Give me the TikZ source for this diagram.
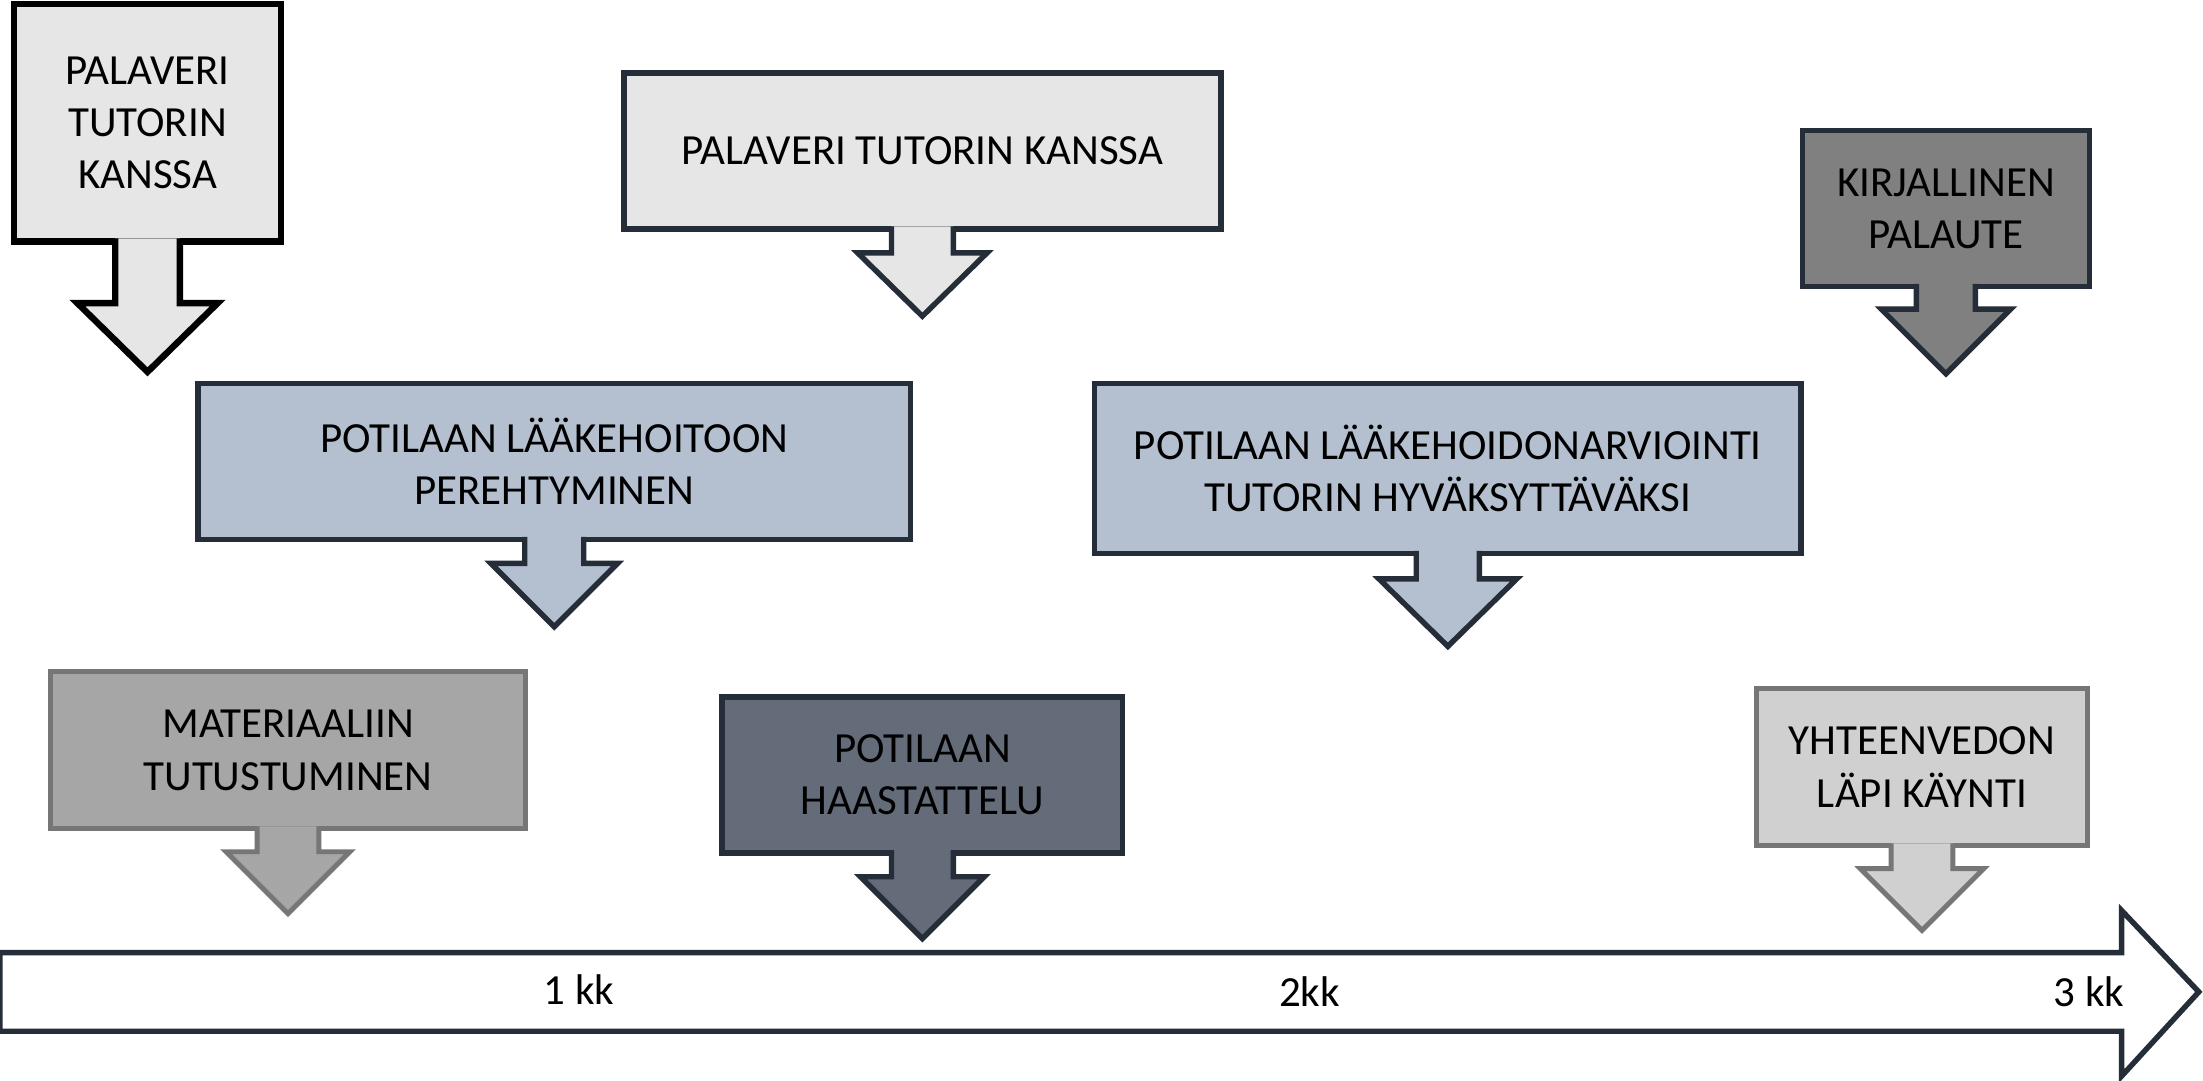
\documentclass[tikz,border=0pt]{standalone}
\usepackage{fontspec}
\setmainfont{Carlito}
\usepackage{tikz}
\usetikzlibrary{positioning,calc}

\definecolor{boxlight}{HTML}{E6E6E6}
\definecolor{boxblue}{HTML}{B4BFCF}
\definecolor{boxdark}{HTML}{808080}
\definecolor{boxmid}{HTML}{A6A6A6}
\definecolor{boxslate}{HTML}{646C7A}
\definecolor{boxpale}{HTML}{D0D0D0}
\definecolor{edgedark}{HTML}{252D38}
\definecolor{edgegray}{HTML}{767676}

\tikzset{
  stage/.style={draw, line width=1.1pt, align=center, inner sep=0pt, outer sep=0pt,
    font=\fontsize{8.7}{10.6}\selectfont},
  tail/.style={line width=1.1pt, line join=miter},
  palegray/.style={fill=boxlight, draw=edgedark},
  bluegray/.style={fill=boxblue, draw=edgedark},
  darkgray/.style={fill=boxdark, draw=edgedark},
  midgray/.style={fill=boxmid, draw=edgegray},
  slate/.style={fill=boxslate, draw=edgedark},
  lightgray/.style={fill=boxpale, draw=edgegray},
}

\begin{document}
\begin{tikzpicture}
    \useasboundingbox (0,0) rectangle (15.68,7.69);

    % Time line
    \draw[tail, draw=edgedark, fill=white] (0,0.91) -- (15.10,0.91) -- (15.10,1.21)
        -- (15.65,0.63) -- (15.10,0.03) -- (15.10,0.35) -- (0,0.35) -- cycle;
    \node[font=\fontsize{8.7}{10.6}\selectfont] (month1) at (4.12,0.65) {1 kk};
    \node[font=\fontsize{8.7}{10.6}\selectfont] (month2) at (9.32,0.63) {2kk};
    \node[font=\fontsize{8.7}{10.6}\selectfont] (month3) at (14.87,0.63) {3 kk};

    % First meeting
    \node[stage, palegray, draw=black, line width=1.3pt, minimum width=1.90cm, minimum height=1.69cm]
        (palaveri1) at (1.05,6.815) {PALAVERI\\TUTORIN\\KANSSA};
    \filldraw[tail, palegray, draw=black, line width=1.3pt] ([xshift=-0.23cm, yshift=0.65pt]palaveri1.south)
        -- ++(0,-0.46) -- ++(-0.27,0) -- ++(0.50,-0.49) -- ++(0.50,0.49) -- ++(-0.27,0) -- ++(0,0.46);

    % Second meeting
    \node[stage, palegray, minimum width=4.25cm, minimum height=1.11cm]
        (palaveri2) at (6.565,6.615) {PALAVERI TUTORIN KANSSA};
    \filldraw[tail, palegray] ([xshift=-0.22cm, yshift=0.55pt]palaveri2.south)
        -- ++(0,-0.19) -- ++(-0.24,0) -- ++(0.46,-0.45) -- ++(0.46,0.45) -- ++(-0.24,0) -- ++(0,0.19);

    % Feedback
    \node[stage, darkgray, minimum width=2.04cm, minimum height=1.11cm]
        (palaute) at (13.85,6.205) {KIRJALLINEN\\PALAUTE};
    \filldraw[tail, darkgray] ([xshift=-0.21cm, yshift=0.55pt]palaute.south)
        -- ++(0,-0.18) -- ++(-0.25,0) -- ++(0.46,-0.46) -- ++(0.46,0.46) -- ++(-0.25,0) -- ++(0,0.18);

    % Getting to know the medication
    \node[stage, bluegray, minimum width=5.07cm, minimum height=1.11cm]
        (perehtyminen) at (3.945,4.405) {POTILAAN LÄÄKEHOITOON\\PEREHTYMINEN};
    \filldraw[tail, bluegray] ([xshift=-0.21cm, yshift=0.55pt]perehtyminen.south)
        -- ++(0,-0.19) -- ++(-0.24,0) -- ++(0.45,-0.45) -- ++(0.45,0.45) -- ++(-0.24,0) -- ++(0,0.19);

    % Assessment
    \node[stage, bluegray, minimum width=5.03cm, minimum height=1.21cm]
        (arviointi) at (10.305,4.355) {POTILAAN LÄÄKEHOIDONARVIOINTI\\TUTORIN HYVÄKSYTTÄVÄKSI};
    \filldraw[tail, bluegray] ([xshift=-0.225cm, yshift=0.55pt]arviointi.south)
        -- ++(0,-0.20) -- ++(-0.265,0) -- ++(0.49,-0.48) -- ++(0.49,0.48) -- ++(-0.265,0) -- ++(0,0.20);

    % Reading material
    \node[stage, midgray, line width=1pt, minimum width=3.38cm, minimum height=1.12cm]
        (materiaali) at (2.05,2.35) {MATERIAALIIN\\TUTUSTUMINEN};
    \filldraw[tail, midgray, line width=1pt] ([xshift=-0.22cm, yshift=0.5pt]materiaali.south)
        -- ++(0,-0.18) -- ++(-0.22,0) -- ++(0.44,-0.44) -- ++(0.44,0.44) -- ++(-0.22,0) -- ++(0,0.18);

    % Interview
    \node[stage, slate, minimum width=2.85cm, minimum height=1.11cm]
        (haastattelu) at (6.565,2.175) {POTILAAN\\HAASTATTELU};
    \filldraw[tail, slate] ([xshift=-0.22cm, yshift=0.55pt]haastattelu.south)
        -- ++(0,-0.19) -- ++(-0.22,0) -- ++(0.44,-0.44) -- ++(0.44,0.44) -- ++(-0.22,0) -- ++(0,0.19);

    % Summary
    \node[stage, lightgray, line width=1pt, minimum width=2.36cm, minimum height=1.12cm]
        (yhteenveto) at (13.68,2.23) {YHTEENVEDON\\LÄPI KÄYNTI};
    \filldraw[tail, lightgray, line width=1pt] ([xshift=-0.22cm, yshift=0.5pt]yhteenveto.south)
        -- ++(0,-0.18) -- ++(-0.22,0) -- ++(0.44,-0.44) -- ++(0.44,0.44) -- ++(-0.22,0) -- ++(0,0.18);

\end{tikzpicture}
\end{document}
